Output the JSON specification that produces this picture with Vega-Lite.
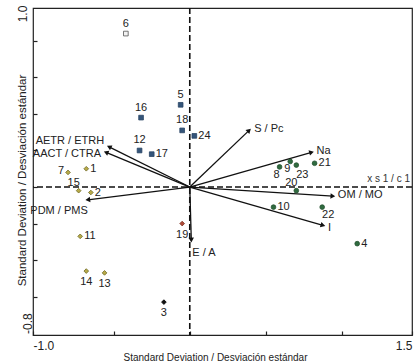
{
  "$schema": "https://vega.github.io/schema/vega-lite/v6.json",
  "autosize": "none",
  "width": 379,
  "height": 327,
  "padding": {"left": 33, "top": 8, "right": 8, "bottom": 28},
  "background": "white",
  "config": {
    "view": {"stroke": "#222", "strokeWidth": 1.2},
    "font": "Liberation Sans",
    "text": {"font": "Liberation Sans", "fontSize": 11, "color": "#222"}
  },
  "datasets": {
    "points": [
      {"id": "6", "g": "hollow", "x": -0.42, "y": 0.84},
      {"id": "5", "g": "blue", "x": -0.06, "y": 0.45},
      {"id": "16", "g": "blue", "x": -0.32, "y": 0.38},
      {"id": "18", "g": "blue", "x": -0.05, "y": 0.31},
      {"id": "24", "g": "blue", "x": 0.03, "y": 0.28},
      {"id": "12", "g": "blue", "x": -0.33, "y": 0.20},
      {"id": "17", "g": "blue", "x": -0.25, "y": 0.18},
      {"id": "7", "g": "olive", "x": -0.80, "y": 0.08},
      {"id": "1", "g": "olive", "x": -0.68, "y": 0.10},
      {"id": "15", "g": "olive", "x": -0.73, "y": -0.02},
      {"id": "2", "g": "olive", "x": -0.65, "y": -0.03},
      {"id": "11", "g": "olive", "x": -0.72, "y": -0.27},
      {"id": "14", "g": "olive", "x": -0.68, "y": -0.46},
      {"id": "13", "g": "olive", "x": -0.56, "y": -0.47},
      {"id": "3", "g": "black", "x": -0.17, "y": -0.63},
      {"id": "19", "g": "red", "x": -0.05, "y": -0.20},
      {"id": "8", "g": "green", "x": 0.59, "y": 0.11},
      {"id": "9", "g": "green", "x": 0.66, "y": 0.14},
      {"id": "23", "g": "green", "x": 0.70, "y": 0.12},
      {"id": "21", "g": "green", "x": 0.82, "y": 0.13},
      {"id": "20", "g": "green", "x": 0.70, "y": -0.02},
      {"id": "10", "g": "green", "x": 0.55, "y": -0.11},
      {"id": "22", "g": "green", "x": 0.87, "y": -0.11},
      {"id": "4", "g": "green", "x": 1.10, "y": -0.31}
    ],
    "arrows": [
      {"name": "AETR / ETRH", "x": -0.53, "y": 0.22},
      {"name": "AACT / CTRA", "x": -0.55, "y": 0.19},
      {"name": "PDM / PMS", "x": -0.67, "y": -0.07},
      {"name": "S / Pc", "x": 0.39, "y": 0.31},
      {"name": "Na", "x": 0.80, "y": 0.19},
      {"name": "OM / MO", "x": 0.94, "y": -0.05},
      {"name": "I", "x": 0.875, "y": -0.21},
      {"name": "E / A", "x": 0.01, "y": -0.29}
    ]
  },
  "layer": [
    {
      "data": {"name": "arrows"},
      "mark": {"type": "rule", "color": "#111", "strokeWidth": 1.3},
      "encoding": {
        "x": {
          "field": "x",
          "type": "quantitative",
          "scale": {"domain": [-1.03, 1.46], "nice": false, "zero": false},
          "axis": {
            "values": [-1.03, -0.5, 0, 0.5, 1, 1.46],
            "labelExpr": "datum.value < -1 ? '-1.0' : (datum.value > 1.4 ? '1.5' : '')",
            "labelFlush": true,
            "labelOverlap": false,
            "labelFontSize": 12,
            "labelColor": "#222",
            "labelPadding": 9,
            "tickSize": -4,
            "tickWidth": 1.2,
            "tickColor": "#222",
            "domain": false,
            "grid": false,
            "title": "Standard Deviation / Desviación estándar",
            "titleFontSize": 10,
            "titleFontWeight": "normal",
            "titleColor": "#222",
            "titleX": 182,
            "titleY": 25,
            "titleBaseline": "alphabetic"
          }
        },
        "y": {
          "field": "y",
          "type": "quantitative",
          "scale": {"domain": [-0.81, 0.98], "nice": false, "zero": false},
          "axis": {
            "values": [-0.745, -0.6, -0.4, -0.2, 0, 0.2, 0.4, 0.6, 0.8],
            "labelExpr": "datum.value < -0.7 ? '-0.8' : ''",
            "labelAngle": 270,
            "labelAlign": "center",
            "labelBaseline": "alphabetic",
            "labelOverlap": false,
            "labelFontSize": 12,
            "labelColor": "#222",
            "labelPadding": 6,
            "tickSize": -4,
            "tickWidth": 1.2,
            "tickColor": {"condition": {"test": "datum.value < -0.7", "value": "transparent"}, "value": "#222"},
            "domain": false,
            "grid": false,
            "title": "Standard Deviation / Desviación estándar",
            "titleFontSize": 11.5,
            "titleFontWeight": "normal",
            "titleColor": "#222",
            "titleAngle": 270,
            "titleX": -8,
            "titleY": 172,
            "titleAlign": "center",
            "titleBaseline": "alphabetic"
          }
        },
        "x2": {"datum": 0},
        "y2": {"datum": 0}
      }
    },
    {
      "data": {"values": [{}]},
      "mark": {"type": "text", "angle": 270, "align": "center", "baseline": "alphabetic", "fontSize": 12, "color": "#222"},
      "encoding": {
        "x": {"datum": -1.0685, "type": "quantitative"},
        "y": {"datum": 0.947, "type": "quantitative"},
        "text": {"value": "1.0"}
      }
    },
    {
      "data": {"values": [{}]},
      "mark": {"type": "rule", "color": "#111", "strokeWidth": 1.6, "strokeDash": [6, 3]},
      "encoding": {"x": {"datum": 0, "type": "quantitative"}}
    },
    {
      "data": {"values": [{}]},
      "mark": {"type": "rule", "color": "#111", "strokeWidth": 1.6, "strokeDash": [6, 3]},
      "encoding": {"y": {"datum": 0, "type": "quantitative"}}
    },
    {
      "data": {"values": [{}]},
      "mark": {"type": "text", "align": "right", "dx": -2, "dy": -8, "fontSize": 10, "color": "#333"},
      "encoding": {
        "x": {"datum": 1.46, "type": "quantitative"},
        "y": {"datum": 0, "type": "quantitative"},
        "text": {"value": "x s 1 /   c 1"}
      }
    },
    {
      "data": {"name": "arrows"},
      "transform": [{"calculate": "atan2(datum.x * 152, datum.y * 183) * 180 / PI", "as": "ang"}],
      "mark": {"type": "point", "shape": "triangle-up", "filled": true, "color": "#111", "size": 30, "opacity": 1},
      "encoding": {
        "x": {"field": "x", "type": "quantitative"},
        "y": {"field": "y", "type": "quantitative"},
        "angle": {"field": "ang", "type": "quantitative", "scale": null}
      }
    },
    {
      "data": {"name": "arrows"},
      "transform": [{"filter": {"field": "name", "equal": "AETR / ETRH"}}],
      "mark": {"type": "text", "align": "right", "dx": -5, "dy": -6},
      "encoding": {"x": {"field": "x", "type": "quantitative"}, "y": {"field": "y", "type": "quantitative"}, "text": {"field": "name"}}
    },
    {
      "data": {"name": "arrows"},
      "transform": [{"filter": {"field": "name", "equal": "AACT / CTRA"}}],
      "mark": {"type": "text", "align": "right", "dx": -5, "dy": 2},
      "encoding": {"x": {"field": "x", "type": "quantitative"}, "y": {"field": "y", "type": "quantitative"}, "text": {"field": "name"}}
    },
    {
      "data": {"name": "arrows"},
      "transform": [{"filter": {"field": "name", "equal": "PDM / PMS"}}],
      "mark": {"type": "text", "align": "right", "dx": 0, "dy": 11},
      "encoding": {"x": {"field": "x", "type": "quantitative"}, "y": {"field": "y", "type": "quantitative"}, "text": {"field": "name"}}
    },
    {
      "data": {"name": "arrows"},
      "transform": [{"filter": {"field": "name", "oneOf": ["S / Pc", "Na", "OM / MO"]}}],
      "mark": {"type": "text", "align": "left", "dx": 5, "dy": -1},
      "encoding": {"x": {"field": "x", "type": "quantitative"}, "y": {"field": "y", "type": "quantitative"}, "text": {"field": "name"}}
    },
    {
      "data": {"name": "arrows"},
      "transform": [{"filter": {"field": "name", "equal": "I"}}],
      "mark": {"type": "text", "align": "left", "dx": 5, "dy": 3},
      "encoding": {"x": {"field": "x", "type": "quantitative"}, "y": {"field": "y", "type": "quantitative"}, "text": {"field": "name"}}
    },
    {
      "data": {"name": "arrows"},
      "transform": [{"filter": {"field": "name", "equal": "E / A"}}],
      "mark": {"type": "text", "align": "left", "dx": 1, "dy": 13},
      "encoding": {"x": {"field": "x", "type": "quantitative"}, "y": {"field": "y", "type": "quantitative"}, "text": {"field": "name"}}
    },
    {
      "data": {"name": "points"},
      "mark": {"type": "point", "filled": true, "opacity": 1, "size": 22, "strokeWidth": 0.8},
      "encoding": {
        "x": {"field": "x", "type": "quantitative"},
        "y": {"field": "y", "type": "quantitative"},
        "shape": {
          "field": "g", "type": "nominal", "legend": null,
          "scale": {"domain": ["hollow", "blue", "olive", "black", "red", "green"], "range": ["square", "square", "diamond", "diamond", "diamond", "circle"]}
        },
        "fill": {
          "field": "g", "type": "nominal", "legend": null,
          "scale": {"domain": ["hollow", "blue", "olive", "black", "red", "green"], "range": ["#f2f2f2", "#34557a", "#b8aa48", "#111111", "#b04a38", "#2f6b3f"]}
        },
        "stroke": {
          "field": "g", "type": "nominal", "legend": null,
          "scale": {"domain": ["hollow", "blue", "olive", "black", "red", "green"], "range": ["#555555", "#2a4565", "#6e6a25", "#000000", "#7a3020", "#23502f"]}
        }
      }
    },
    {
      "data": {"name": "points"},
      "transform": [{"filter": {"field": "id", "oneOf": ["6", "5", "16", "18", "12"]}}],
      "mark": {"type": "text", "align": "center", "dy": -10},
      "encoding": {"x": {"field": "x", "type": "quantitative"}, "y": {"field": "y", "type": "quantitative"}, "text": {"field": "id"}}
    },
    {
      "data": {"name": "points"},
      "transform": [{"filter": {"field": "id", "oneOf": ["24", "17", "1", "2", "11", "10", "21", "4"]}}],
      "mark": {"type": "text", "align": "left", "dx": 4, "dy": 0},
      "encoding": {"x": {"field": "x", "type": "quantitative"}, "y": {"field": "y", "type": "quantitative"}, "text": {"field": "id"}}
    },
    {
      "data": {"name": "points"},
      "transform": [{"filter": {"field": "id", "oneOf": ["7"]}}],
      "mark": {"type": "text", "align": "right", "dx": -4, "dy": -1},
      "encoding": {"x": {"field": "x", "type": "quantitative"}, "y": {"field": "y", "type": "quantitative"}, "text": {"field": "id"}}
    },
    {
      "data": {"name": "points"},
      "transform": [{"filter": {"field": "id", "oneOf": ["15", "20"]}}],
      "mark": {"type": "text", "align": "center", "dx": -5, "dy": -8},
      "encoding": {"x": {"field": "x", "type": "quantitative"}, "y": {"field": "y", "type": "quantitative"}, "text": {"field": "id"}}
    },
    {
      "data": {"name": "points"},
      "transform": [{"filter": {"field": "id", "oneOf": ["14", "13", "3", "19"]}}],
      "mark": {"type": "text", "align": "center", "dy": 11},
      "encoding": {"x": {"field": "x", "type": "quantitative"}, "y": {"field": "y", "type": "quantitative"}, "text": {"field": "id"}}
    },
    {
      "data": {"name": "points"},
      "transform": [{"filter": {"field": "id", "oneOf": ["22"]}}],
      "mark": {"type": "text", "align": "center", "dx": 6, "dy": 8},
      "encoding": {"x": {"field": "x", "type": "quantitative"}, "y": {"field": "y", "type": "quantitative"}, "text": {"field": "id"}}
    },
    {
      "data": {"name": "points"},
      "transform": [{"filter": {"field": "id", "oneOf": ["23"]}}],
      "mark": {"type": "text", "align": "center", "dx": 6, "dy": 10},
      "encoding": {"x": {"field": "x", "type": "quantitative"}, "y": {"field": "y", "type": "quantitative"}, "text": {"field": "id"}}
    },
    {
      "data": {"name": "points"},
      "transform": [{"filter": {"field": "id", "oneOf": ["8", "9"]}}],
      "mark": {"type": "text", "align": "center", "dx": -3, "dy": 8},
      "encoding": {"x": {"field": "x", "type": "quantitative"}, "y": {"field": "y", "type": "quantitative"}, "text": {"field": "id"}}
    }
  ]
}
